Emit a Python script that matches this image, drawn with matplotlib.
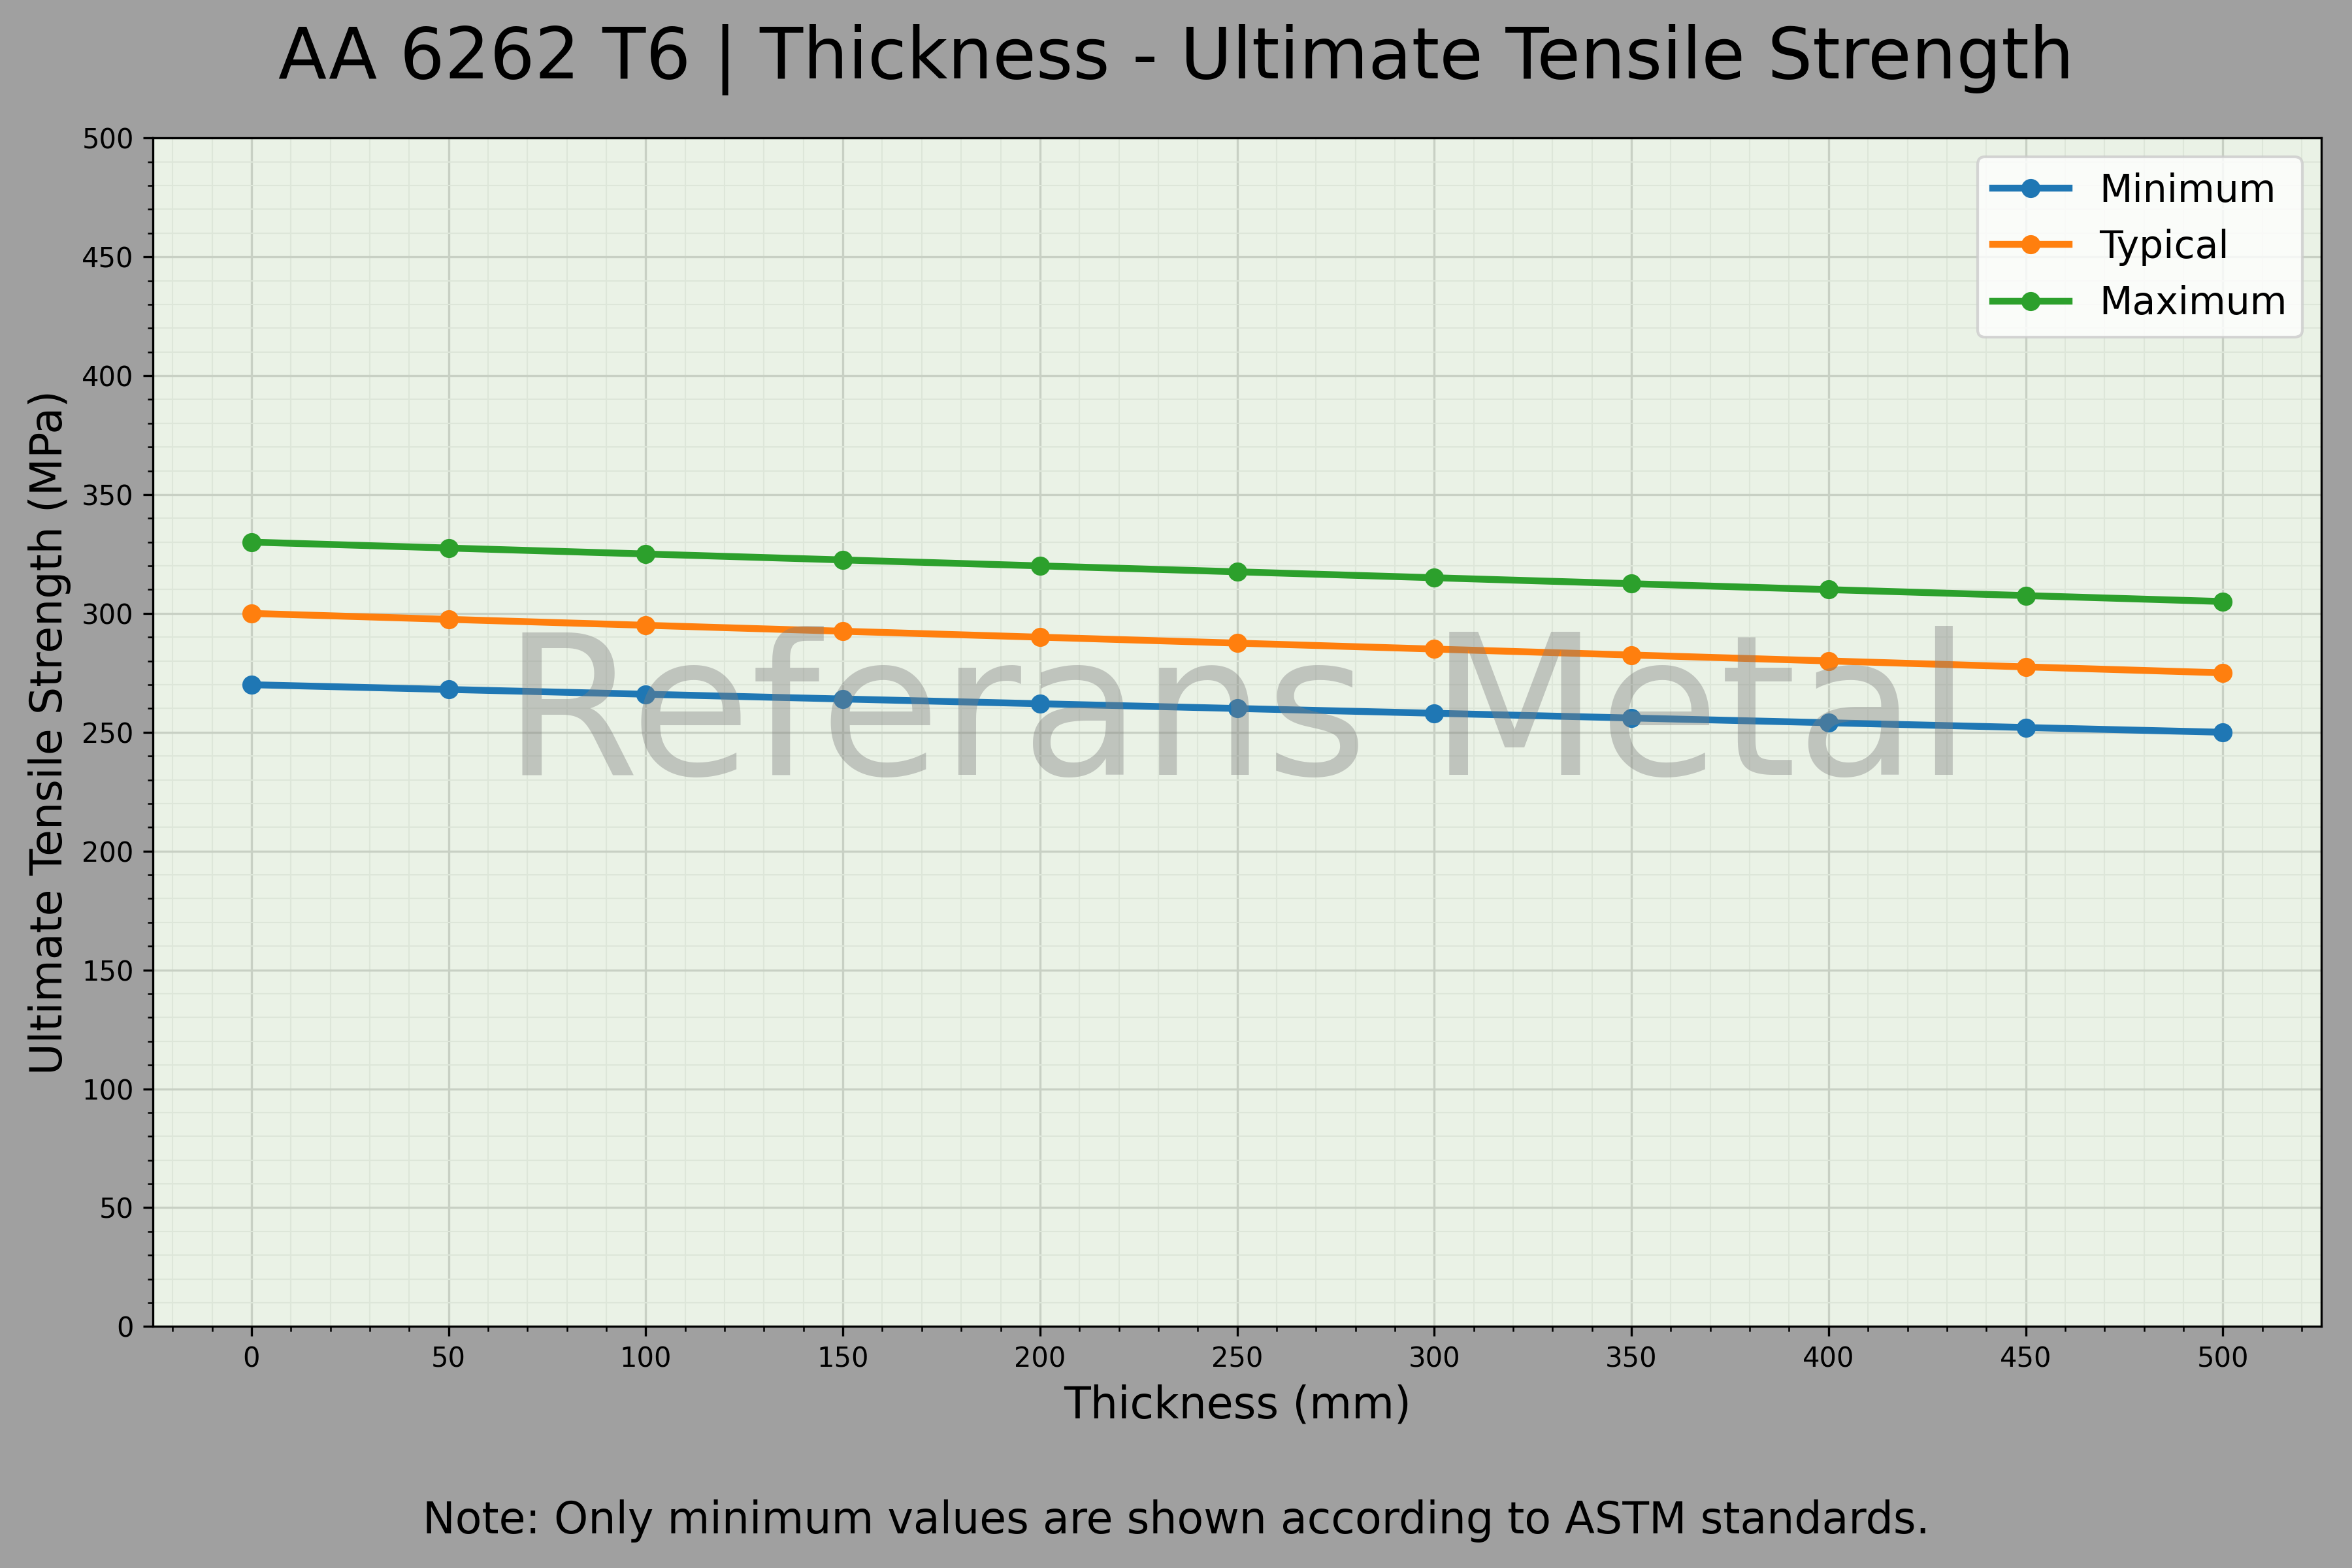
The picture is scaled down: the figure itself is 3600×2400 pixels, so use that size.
import numpy as np
import matplotlib.pyplot as plt
from matplotlib.ticker import AutoMinorLocator

# data
thickness = [0, 50, 100, 150, 200, 250, 300, 350, 400, 450, 500]
uts_min = [270, 268, 266, 264, 262, 260, 258, 256, 254, 252, 250]
uts_typ = [300, 297.5, 295, 292.5, 290, 287.5, 285, 282.5, 280, 277.5, 275]
uts_max = [330, 327.5, 325, 322.5, 320, 317.5, 315, 312.5, 310, 307.5, 305]

fig = plt.figure(figsize=(12, 8), dpi=300, facecolor='#a0a0a0')
ax = fig.add_axes([0.065, 0.154, 0.922, 0.758])
ax.set_facecolor('#eaf2e6')

ax.plot(thickness, uts_min, marker='o', lw=2.5, color='#1f77b4', label='Minimum')
ax.plot(thickness, uts_typ, marker='o', lw=2.5, color='#ff7f0e', label='Typical')
ax.plot(thickness, uts_max, marker='o', lw=2.5, color='#2ca02c', label='Maximum')

ax.set_ylim(0, 500)
ax.set_xlim(-25, 525)
ax.set_xticks(range(0, 501, 50))
ax.set_yticks(range(0, 501, 50))
ax.xaxis.set_minor_locator(AutoMinorLocator(5))
ax.yaxis.set_minor_locator(AutoMinorLocator(5))
ax.grid(which='major', color='#c8d0c4', lw=0.8)
ax.grid(which='minor', color='#dde6d9', lw=0.5)
ax.tick_params(labelsize=10)

ax.set_xlabel('Thickness (mm)', fontsize=16)
ax.set_ylabel('Ultimate Tensile Strength (MPa)', fontsize=16)
fig.text(0.5, 0.962, 'AA 6262 T6 | Thickness - Ultimate Tensile Strength',
         ha='center', va='center', fontsize=26)
fig.text(0.5, 0.03, 'Note: Only minimum values are shown according to ASTM standards.',
         ha='center', va='center', fontsize=16)

ax.text(0.5, 0.51, 'Referans Metal', transform=ax.transAxes, ha='center', va='center',
        fontsize=72, color='gray', alpha=0.4)

ax.legend(loc='upper right', fontsize=14)

fig.savefig('out.png', dpi=300, facecolor=fig.get_facecolor())
